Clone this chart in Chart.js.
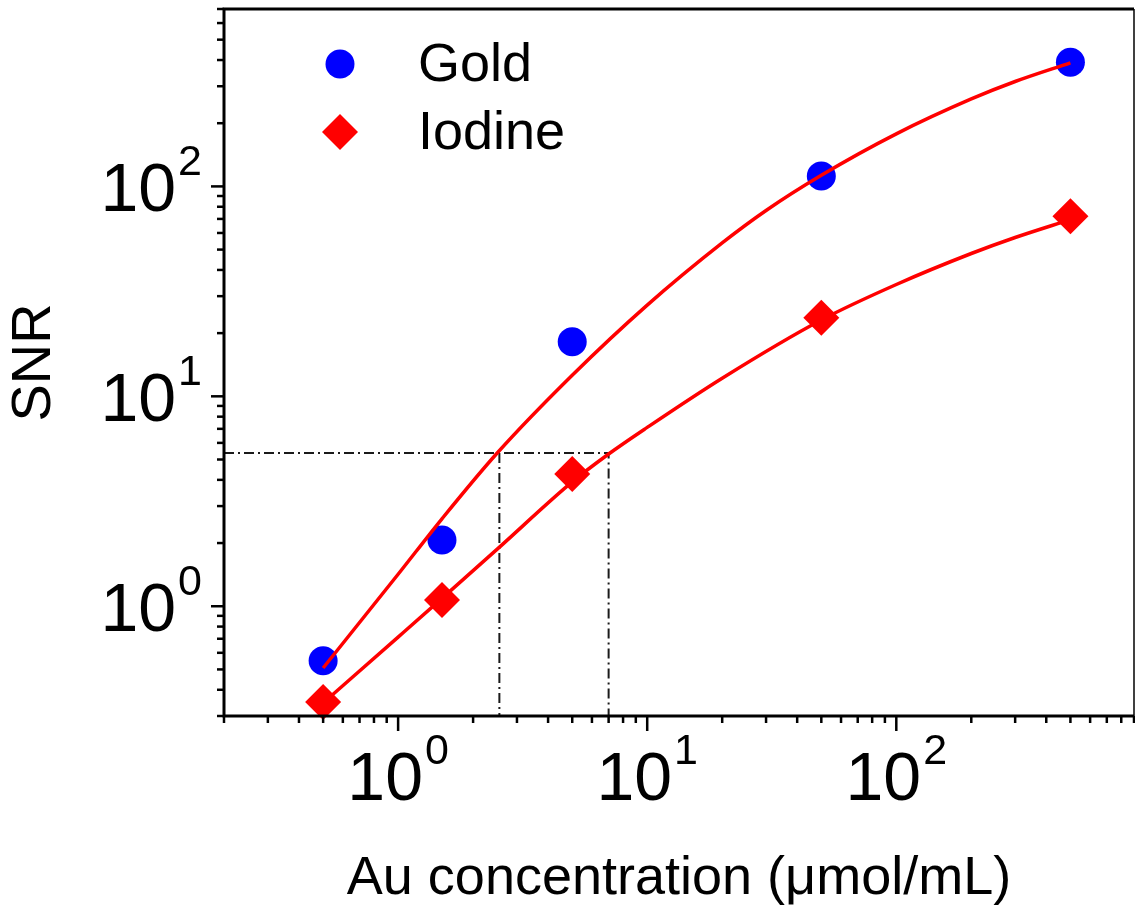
<!DOCTYPE html>
<html>
<head>
<meta charset="utf-8">
<script src="https://cdn.jsdelivr.net/npm/chart.js@4.4.0/dist/chart.umd.min.js"></script>
<style>
  html, body { margin: 0; padding: 0; background: #fff; overflow: hidden; }
  canvas { display: block; }
</style>
</head>
<body>
<canvas id="snrChart" width="1135" height="914"></canvas>
<script>
// ==================== DATA ====================
const concentrations = [0.5, 1.5, 5, 50, 500];
const goldSNR = [0.55, 2.07, 18.2, 112, 390];
const iodineSNR = [0.35, 1.07, 4.27, 23.7, 72];

// fitted curves
const goldFitX = [0.5, 1, 1.5, 2.5, 5, 10, 20, 30, 50, 100, 200, 300, 500];
const goldFitY = [0.508, 1.42, 2.61, 5.37, 12.6, 27.2, 53.8, 76.8, 113, 178, 261, 316, 388];
const iodineFitX = [0.5, 1, 1.5, 2.5, 5, 7, 10, 20, 50, 100, 200, 300, 500];
const iodineFitY = [0.346, 0.713, 1.09, 1.87, 3.91, 5.31, 7.11, 12.2, 23.1, 34.1, 47.9, 57.1, 69.5];

// dash-dot guide lines
const guideSNR = 5.37;
const guideConc = [2.55, 7.0];

const xRange = [0.2, 900];
const yRange = [0.3, 700];
const xMajorTicks = [1, 10, 100];
const yMajorTicks = [1, 10, 100];
const minorSteps = [1, 2, 3, 4, 5, 6, 7, 8, 9];
const decades = [0.1, 1, 10, 100];

const FONT = "'Liberation Sans', Arial, Helvetica, sans-serif";

function logTicks(range, majors) {
    const out = [];
    decades.forEach(d => minorSteps.forEach(m => {
        const v = +(m * d).toPrecision(6);
        if (v >= range[0] * 0.999999 && v <= range[1] * 1.000001) {
            out.push({ value: v, major: majors.includes(v) });
        }
    }));
    return out;
}

function pts(xs, ys) {
    return xs.map((x, i) => ({ x: x, y: ys[i] }));
}

// ==================== PLUGINS ====================
function drawPower(ctx, exp, x, baseline, align) {
    ctx.font = '68px ' + FONT;
    const wBase = ctx.measureText('10').width;
    ctx.font = '43px ' + FONT;
    const wExp = ctx.measureText(String(exp)).width;
    const total = wBase + 2 + wExp;
    const start = align === 'center' ? x - total / 2 : x - total;
    ctx.textAlign = 'left';
    ctx.textBaseline = 'alphabetic';
    ctx.font = '68px ' + FONT;
    ctx.fillText('10', start, baseline);
    ctx.font = '43px ' + FONT;
    ctx.fillText(String(exp), start + wBase + 2, baseline - 36);
}

const axesPlugin = {
    id: 'axesPlugin',
    afterDatasetsDraw(chart) {
        const { ctx, chartArea: a, scales: { x, y } } = chart;
        ctx.save();
        ctx.strokeStyle = '#000';
        ctx.fillStyle = '#000';

        // frame
        ctx.lineWidth = 3;
        ctx.beginPath();
        ctx.moveTo(a.right, a.top);
        ctx.lineTo(a.left, a.top);
        ctx.lineTo(a.left, a.bottom);
        ctx.lineTo(a.right, a.bottom);
        ctx.stroke();
        ctx.lineWidth = 1.5;
        ctx.beginPath();
        ctx.moveTo(a.right, a.top);
        ctx.lineTo(a.right, a.bottom);
        ctx.stroke();

        // ticks
        ctx.lineWidth = 2.5;
        x.ticks.forEach(t => {
            const px = x.getPixelForValue(t.value);
            ctx.beginPath();
            ctx.moveTo(px, a.bottom);
            ctx.lineTo(px, a.bottom + (t.major ? 15 : 7));
            ctx.stroke();
        });
        y.ticks.forEach(t => {
            const py = y.getPixelForValue(t.value);
            ctx.beginPath();
            ctx.moveTo(a.left, py);
            ctx.lineTo(a.left - (t.major ? 13 : 7), py);
            ctx.stroke();
        });

        // tick labels
        xMajorTicks.forEach(v => {
            drawPower(ctx, Math.round(Math.log10(v)), x.getPixelForValue(v), a.bottom + 84, 'center');
        });
        yMajorTicks.forEach(v => {
            drawPower(ctx, Math.round(Math.log10(v)), a.left - 22, y.getPixelForValue(v) + 25, 'right');
        });
        ctx.restore();
    }
};

const legendPlugin = {
    id: 'legendPlugin',
    afterDraw(chart) {
        const { ctx, chartArea: a } = chart;
        const entries = [chart.data.datasets[3], chart.data.datasets[0]];
        ctx.save();
        entries.forEach((ds, i) => {
            const cy = a.top + 55 + i * 68;
            ctx.fillStyle = ds.backgroundColor;
            ctx.strokeStyle = ds.backgroundColor;
            Chart.helpers.drawPoint(ctx, {
                pointStyle: ds.pointStyle, radius: ds.pointRadius, rotation: 0, borderWidth: 0
            }, a.left + 116, cy);
            ctx.fillStyle = '#000';
            ctx.font = '54px ' + FONT;
            ctx.textAlign = 'left';
            ctx.textBaseline = 'middle';
            ctx.fillText(ds.label, a.left + 194, cy + 2);
        });
        ctx.restore();
    }
};

// ==================== CHART ====================
const guideStyle = {
    type: 'scatter', showLine: true, borderColor: '#1a1a1a', borderWidth: 2,
    borderDash: [10, 4, 2, 4], pointRadius: 0, fill: false, order: 3
};

new Chart(document.getElementById('snrChart'), {
    type: 'scatter',
    data: {
        datasets: [
            {
                label: 'Iodine', data: pts(concentrations, iodineSNR),
                pointStyle: 'rectRot', pointRadius: 18, pointBorderWidth: 0,
                backgroundColor: '#ff0000', borderColor: '#ff0000', order: 0, clip: false
            },
            {
                label: 'Gold fit', data: pts(goldFitX, goldFitY), showLine: true,
                borderColor: '#ff0000', borderWidth: 3.5, pointRadius: 0,
                cubicInterpolationMode: 'monotone', fill: false, order: 1
            },
            {
                label: 'Iodine fit', data: pts(iodineFitX, iodineFitY), showLine: true,
                borderColor: '#ff0000', borderWidth: 3.5, pointRadius: 0,
                cubicInterpolationMode: 'monotone', fill: false, order: 1
            },
            {
                label: 'Gold', data: pts(concentrations, goldSNR),
                pointStyle: 'circle', pointRadius: 14.5, pointBorderWidth: 0,
                backgroundColor: '#0000ff', borderColor: '#0000ff', order: 2, clip: false
            },
            Object.assign({ label: 'guide h', data: [
                { x: xRange[0], y: guideSNR }, { x: guideConc[1], y: guideSNR }, { x: guideConc[1], y: yRange[0] }
            ] }, guideStyle),
            Object.assign({ label: 'guide v', data: [
                { x: guideConc[0], y: guideSNR }, { x: guideConc[0], y: yRange[0] }
            ] }, guideStyle)
        ]
    },
    options: {
        responsive: false,
        animation: false,
        devicePixelRatio: 1,
        layout: { autoPadding: false, padding: { top: 9, right: 1, left: 0, bottom: 0 } },
        plugins: {
            legend: { display: false },
            tooltip: { enabled: false }
        },
        scales: {
            x: {
                type: 'logarithmic', min: xRange[0], max: xRange[1],
                grid: { display: false }, border: { display: false },
                ticks: { display: false },
                afterBuildTicks: s => { s.ticks = logTicks(xRange, xMajorTicks); },
                afterFit: s => { s.height = 198; },
                title: {
                    display: true, text: 'Au concentration (\u03bcmol/mL)', color: '#000',
                    font: { size: 54, family: FONT }, padding: { top: 0, bottom: 2 }
                }
            },
            y: {
                type: 'logarithmic', min: yRange[0], max: yRange[1],
                grid: { display: false }, border: { display: false },
                ticks: { display: false },
                afterBuildTicks: s => { s.ticks = logTicks(yRange, yMajorTicks); },
                afterFit: s => { s.width = 224; },
                title: {
                    display: true, text: 'SNR', color: '#000',
                    font: { size: 56, family: FONT }, padding: { top: 1, bottom: 0 }
                }
            }
        }
    },
    plugins: [axesPlugin, legendPlugin]
});
</script>
</body>
</html>
